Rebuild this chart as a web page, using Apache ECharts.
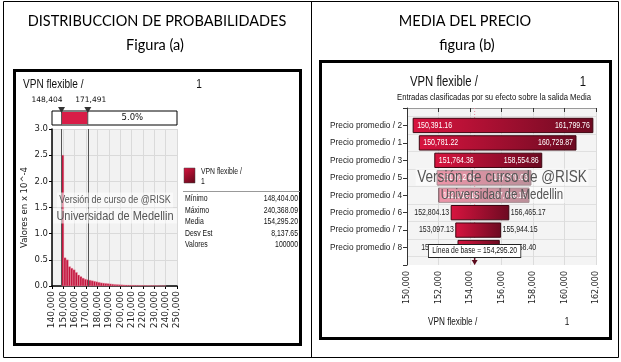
<!DOCTYPE html>
<html>
<head>
<meta charset="utf-8">
<script src="https://cdn.jsdelivr.net/npm/echarts@6/dist/echarts.min.js"></script>
<style>
html, body { margin: 0; padding: 0; background: #fff; }
#main { width: 621px; height: 362px; }
</style>
</head>
<body>
<div id="main"></div>
<script>
// ---- data: figura (a) histogram ----
var histStart = 148404;
var histBinWidth = 2000;
var histDensity = [2.50, 0.54, 0.50, 0.37, 0.34, 0.31, 0.26, 0.21, 0.18, 0.15, 0.13, 0.12,
    0.11, 0.10, 0.09, 0.08, 0.07, 0.06, 0.055, 0.05, 0.045, 0.04, 0.035, 0.03, 0.028,
    0.025, 0.022, 0.02, 0.018, 0.016, 0.015, 0.014, 0.013, 0.012, 0.011, 0.01, 0.01,
    0.009, 0.009, 0.008, 0.008, 0.007, 0.006, 0.005, 0.004, 0.003];
var delimiters = [148404, 171491];
var rightTailPct = '5.0%';
var statLabels = ['Mínimo', 'Máximo', 'Media', 'Desv Est', 'Valores'];
var statValues = ['148,404.00', '240,368.09', '154,295.20', '8,137.65', '100000'];

// ---- data: figura (b) tornado ----
var tornadoInputs = ['Precio promedio / 2', 'Precio promedio / 1', 'Precio promedio / 3',
    'Precio promedio / 5', 'Precio promedio / 4', 'Precio promedio / 6',
    'Precio promedio / 7', 'Precio promedio / 8'];
var tornadoLow = [150391.16, 150781.22, 151764.36, 151912.42, 152032.15, 152804.13, 153097.13, 153238.88];
var tornadoHigh = [161799.76, 160729.87, 158554.86, 157870.03, 157746.15, 156465.17, 155944.15, 155858.40];
var baseline = 154295.20;

var NARROW = "'Liberation Sans', Arial, sans-serif";
var VERD = "'DejaVu Sans', sans-serif";
var SX = 0.82; // the @RISK fonts are condensed

function fmt(v, d) {
    var parts = v.toFixed(d).split('.');
    parts[0] = parts[0].replace(/\B(?=(\d{3})+(?!\d))/g, ',');
    return parts.join('.');
}

// condensed text element
function ntext(x, y, text, size, align, extra) {
    var el = {
        type: 'text', z: 10, x: x, y: y, scaleX: SX,
        style: { text: text, textAlign: align || 'left', textVerticalAlign: 'middle', fill: '#111', font: size + 'px ' + NARROW }
    };
    if (extra) {
        for (var k in extra) el.style[k] = extra[k];
    }
    return el;
}

var histData = histDensity.map(function (d, i) {
    return [histStart + i * histBinWidth, histStart + (i + 1) * histBinWidth, d];
});
var tornadoData = tornadoLow.map(function (lo, i) {
    return [i + 1, lo, tornadoHigh[i]];
});

var barGrad = function () {
    return new echarts.graphic.LinearGradient(0, 0, 1, 0, [
        { offset: 0, color: '#d8143f' },
        { offset: 1, color: '#6c0a21' }
    ]);
};

var chartDom = document.getElementById('main');
var myChart = echarts.init(chartDom, null, { renderer: 'canvas' });

var option = {
    animation: false,
    grid: [
        // histogram
        { left: 52, top: 129, width: 125, height: 157, show: true, backgroundColor: '#f2f2f2', borderWidth: 0 },
        // delimiter bar above histogram
        { left: 52, top: 111, width: 125, height: 14, show: true, backgroundColor: '#fff', borderColor: '#000', borderWidth: 1 },
        // tornado
        { left: 407, top: 108, width: 189, height: 157, show: true, backgroundColor: '#f4f4f4', borderWidth: 0 }
    ],
    xAxis: [
        {
            gridIndex: 0, type: 'value', min: 140000, max: 250000, interval: 10000,
            axisLine: { show: true, lineStyle: { color: '#000', width: 1.5 } },
            axisTick: { show: true, length: 3, lineStyle: { color: '#000' } },
            axisLabel: { rotate: 90, fontFamily: VERD, fontSize: 9, color: '#222', margin: 5, formatter: function (v) { return fmt(v, 0); } },
            splitLine: { show: true, lineStyle: { color: '#dadada' } }
        },
        { gridIndex: 1, type: 'value', min: 140000, max: 250000, show: false },
        {
            gridIndex: 2, type: 'value', min: 150000, max: 162000, interval: 2000,
            axisLine: { show: true, lineStyle: { color: '#999' } },
            axisTick: { show: true, length: 4, lineStyle: { color: '#333' } },
            axisLabel: { rotate: 90, fontFamily: VERD, fontSize: 8, color: '#222', margin: 6, formatter: function (v) { return fmt(v, 0); } },
            splitLine: { show: true, lineStyle: { color: '#dcdcdc' } }
        }
    ],
    yAxis: [
        {
            gridIndex: 0, type: 'value', min: 0, max: 3, interval: 0.5,
            name: 'Valores en x 10^-4', nameLocation: 'middle', nameGap: 23, nameRotate: 90,
            nameTextStyle: { fontFamily: VERD, fontSize: 8.5, color: '#222' },
            axisLine: { show: true, lineStyle: { color: '#000', width: 1.5 } },
            axisTick: { show: true, length: 3, lineStyle: { color: '#000' } },
            axisLabel: { fontFamily: VERD, fontSize: 8.5, color: '#222', margin: 4, formatter: function (v) { return v.toFixed(1); } },
            splitLine: { show: true, lineStyle: { color: '#dadada' } }
        },
        { gridIndex: 1, type: 'value', min: 0, max: 1, show: false },
        {
            gridIndex: 2, type: 'value', min: 0, max: 9, interval: 1, inverse: true,
            axisLine: { show: true, lineStyle: { color: '#333' } },
            axisTick: { show: true, length: 4, lineStyle: { color: '#333' } },
            axisLabel: { fontFamily: NARROW, fontSize: 8.3, color: '#222', margin: 5, formatter: function (v) { return tornadoInputs[v - 1] || ''; } },
            splitLine: { show: false },
            minorTick: { show: false, splitNumber: 2 },
            minorSplitLine: { show: true, lineStyle: { color: '#e0e0e0' } }
        }
    ],
    series: [
        {
            type: 'custom', xAxisIndex: 0, yAxisIndex: 0, data: histData,
            encode: { x: [0, 1], y: 2 },
            renderItem: function (params, api) {
                var p0 = api.coord([api.value(0), api.value(2)]);
                var p1 = api.coord([api.value(1), 0]);
                return {
                    type: 'rect',
                    shape: { x: p0[0], y: p0[1], width: p1[0] - p0[0], height: p1[1] - p0[1] },
                    style: { fill: '#c2153d', stroke: '#f0a6b6', lineWidth: 0.4 }
                };
            },
            markLine: {
                silent: true, symbol: 'none', label: { show: false },
                lineStyle: { color: '#555', width: 1, type: 'solid' },
                data: delimiters.map(function (d) { return { xAxis: d }; })
            }
        },
        {
            // red band in delimiter bar + tail percentage
            type: 'custom', xAxisIndex: 1, yAxisIndex: 1,
            data: [[delimiters[0], delimiters[1]]],
            encode: { x: [0, 1] },
            renderItem: function (params, api) {
                var a = api.coord([api.value(0), 1]);
                var b = api.coord([api.value(1), 0]);
                var e = api.coord([250000, 0]);
                return {
                    type: 'group', children: [
                        { type: 'rect', shape: { x: a[0], y: a[1] + 1, width: b[0] - a[0], height: b[1] - a[1] - 2 }, style: { fill: '#d81d47' } },
                        { type: 'text', x: (b[0] + e[0]) / 2, y: (a[1] + b[1]) / 2, style: { text: rightTailPct, textAlign: 'center', textVerticalAlign: 'middle', fill: '#111', font: '8.5px ' + VERD } }
                    ]
                };
            }
        },
        {
            // delimiter markers with labels
            type: 'custom', xAxisIndex: 1, yAxisIndex: 1,
            data: delimiters.map(function (d, i) { return [d, i]; }),
            encode: { x: 0 },
            z: 5,
            renderItem: function (params, api) {
                var top = api.coord([api.value(0), 1]);
                var bot = api.coord([api.value(0), 0]);
                var x = top[0];
                var first = api.value(1) === 0;
                return {
                    type: 'group', children: [
                        { type: 'line', shape: { x1: x, y1: top[1], x2: x, y2: bot[1] }, style: { stroke: '#555', lineWidth: 1 } },
                        { type: 'polygon', shape: { points: [[x - 3.5, top[1] - 4], [x + 3.5, top[1] - 4], [x, top[1] + 2]] }, style: { fill: '#333' } },
                        { type: 'text', x: first ? x + 1 : x + 3, y: top[1] - 11, style: { text: fmt(api.value(0), 0), textAlign: first ? 'right' : 'center', textVerticalAlign: 'middle', fill: '#111', font: '7.5px ' + VERD } }
                    ]
                };
            }
        },
        {
            // baseline dotted line (drawn under bars)
            type: 'custom', xAxisIndex: 2, yAxisIndex: 2,
            data: [[baseline]], encode: { x: 0 }, z: 1,
            renderItem: function (params, api) {
                var a = api.coord([api.value(0), 0]);
                var b = api.coord([api.value(0), 9]);
                return { type: 'line', shape: { x1: a[0], y1: a[1], x2: b[0], y2: b[1] }, style: { stroke: '#e88ea2', lineWidth: 1, lineDash: [1, 2] } };
            }
        },
        {
            type: 'custom', xAxisIndex: 2, yAxisIndex: 2, data: tornadoData, z: 2,
            encode: { x: [1, 2], y: 0 },
            renderItem: function (params, api) {
                var row = api.value(0), lo = api.value(1), hi = api.value(2);
                var a = api.coord([lo, row]);
                var b = api.coord([hi, row]);
                var h = api.size([0, 1])[1] * 0.82;
                var w = b[0] - a[0];
                var inside = w > 80;
                var font = '8.5px ' + NARROW;
                return {
                    type: 'group', children: [
                        { type: 'rect', shape: { x: a[0], y: a[1] - h / 2, width: w, height: h }, style: { fill: barGrad(), stroke: '#3c0510', lineWidth: 1 } },
                        { type: 'text', scaleX: SX, x: inside ? a[0] + 4 : a[0] - 2, y: a[1], style: { text: fmt(lo, 2), textAlign: inside ? 'left' : 'right', textVerticalAlign: 'middle', fill: inside ? '#fff' : '#222', font: font } },
                        { type: 'text', scaleX: SX, x: inside ? b[0] - 3 : b[0] + 2, y: b[1], style: { text: fmt(hi, 2), textAlign: inside ? 'right' : 'left', textVerticalAlign: 'middle', fill: inside ? '#fff' : '#222', font: font } }
                    ]
                };
            }
        },
        {
            // baseline label and marker
            type: 'custom', xAxisIndex: 2, yAxisIndex: 2,
            data: [[baseline]], encode: { x: 0 }, z: 4,
            renderItem: function (params, api) {
                var lab = api.coord([api.value(0), 8.2]);
                var bot = api.coord([api.value(0), 9]);
                return {
                    type: 'group', children: [
                        { type: 'line', shape: { x1: lab[0], y1: lab[1], x2: bot[0], y2: bot[1] - 3 }, style: { stroke: '#5a0a1c', lineWidth: 1.5 } },
                        { type: 'polygon', shape: { points: [[bot[0] - 3, bot[1] - 5], [bot[0] + 3, bot[1] - 5], [bot[0], bot[1]]] }, style: { fill: '#5a0a1c' } },
                        { type: 'text', scaleX: SX, x: lab[0], y: lab[1], style: { text: 'Línea de base = ' + fmt(api.value(0), 2), textAlign: 'center', textVerticalAlign: 'middle', fill: '#111', font: '8.3px ' + NARROW, backgroundColor: '#fff', borderColor: '#222', borderWidth: 1, padding: [2, 4, 2, 4] } }
                    ]
                };
            }
        }
    ],
    graphic: [
        // frames
        { type: 'rect', z: 10, shape: { x: 3.5, y: 1.5, width: 615, height: 356 }, style: { fill: 'none', stroke: '#000', lineWidth: 1 } },
        { type: 'line', z: 10, shape: { x1: 311.5, y1: 1.5, x2: 311.5, y2: 357.5 }, style: { stroke: '#000', lineWidth: 1 } },
        { type: 'rect', z: 10, shape: { x: 14.5, y: 70.5, width: 286, height: 274 }, style: { fill: 'none', stroke: '#000', lineWidth: 3 } },
        { type: 'rect', z: 10, shape: { x: 320.5, y: 61.5, width: 290, height: 277 }, style: { fill: 'none', stroke: '#000', lineWidth: 3 } },
        // titles
        { type: 'text', z: 10, x: 157, y: 21, style: { text: 'DISTRIBUCCION DE PROBABILIDADES', textAlign: 'center', textVerticalAlign: 'middle', fill: '#000', font: '14.5px Lato, sans-serif' } },
        { type: 'text', z: 10, x: 155, y: 45, style: { text: 'Figura (a)', textAlign: 'center', textVerticalAlign: 'middle', fill: '#000', font: '14.5px Lato, sans-serif' } },
        { type: 'text', z: 10, x: 465, y: 21, style: { text: 'MEDIA DEL PRECIO', textAlign: 'center', textVerticalAlign: 'middle', fill: '#000', font: '14.5px Lato, sans-serif' } },
        { type: 'text', z: 10, x: 467, y: 45, style: { text: 'figura (b)', textAlign: 'center', textVerticalAlign: 'middle', fill: '#000', font: '14.5px Lato, sans-serif' } },
        // left panel header
        ntext(23, 85, 'VPN flexible /', 12.3),
        ntext(199, 85, '1', 12.3, 'center'),
        // left legend + stats
        { type: 'rect', z: 10, shape: { x: 184, y: 168, width: 11, height: 15 }, style: { fill: new echarts.graphic.LinearGradient(0, 0, 1, 1, [{ offset: 0, color: '#d8143f' }, { offset: 1, color: '#5e0819' }]), stroke: '#444', lineWidth: 0.5 } },
        ntext(201, 172, 'VPN flexible /', 8.3),
        ntext(201, 182, '1', 8.3),
        { type: 'line', z: 10, shape: { x1: 183, y1: 191.5, x2: 300, y2: 191.5 }, style: { stroke: '#999', lineWidth: 1 } }
    ].concat(statLabels.map(function (s, i) {
        return ntext(185, 199 + i * 11.5, s, 8.4);
    })).concat(statValues.map(function (s, i) {
        return ntext(298, 199 + i * 11.5, s, 8.4, 'right');
    })).concat([
        // watermarks
        ntext(115, 200, 'Versión de curso de @RISK', 10.9, 'center', { fill: '#555', backgroundColor: 'rgba(255,255,255,0.55)', padding: [2, 3, 2, 3] }),
        ntext(115, 216, 'Universidad de Medellin', 13.4, 'center', { fill: '#555', backgroundColor: 'rgba(255,255,255,0.55)', padding: [1, 4, 1, 4] }),
        ntext(502, 177, 'Versión de curso de @RISK', 16.6, 'center', { fill: '#555', backgroundColor: 'rgba(255,255,255,0.55)', padding: [0, 2, 0, 2] }),
        ntext(502, 195, 'Universidad de Medellin', 14, 'center', { fill: '#555', backgroundColor: 'rgba(255,255,255,0.55)', padding: [1, 2, 1, 2] }),
        // right panel header / footer
        ntext(410, 82, 'VPN flexible /', 13.8),
        ntext(583, 82, '1', 13.8, 'center'),
        ntext(494, 97, 'Entradas clasificadas por su efecto sobre la salida Media', 9.4, 'center'),
        ntext(428, 322, 'VPN flexible /', 10),
        ntext(567, 322, '1', 10, 'center')
    ])
};

option && myChart.setOption(option);
</script>
</body>
</html>
